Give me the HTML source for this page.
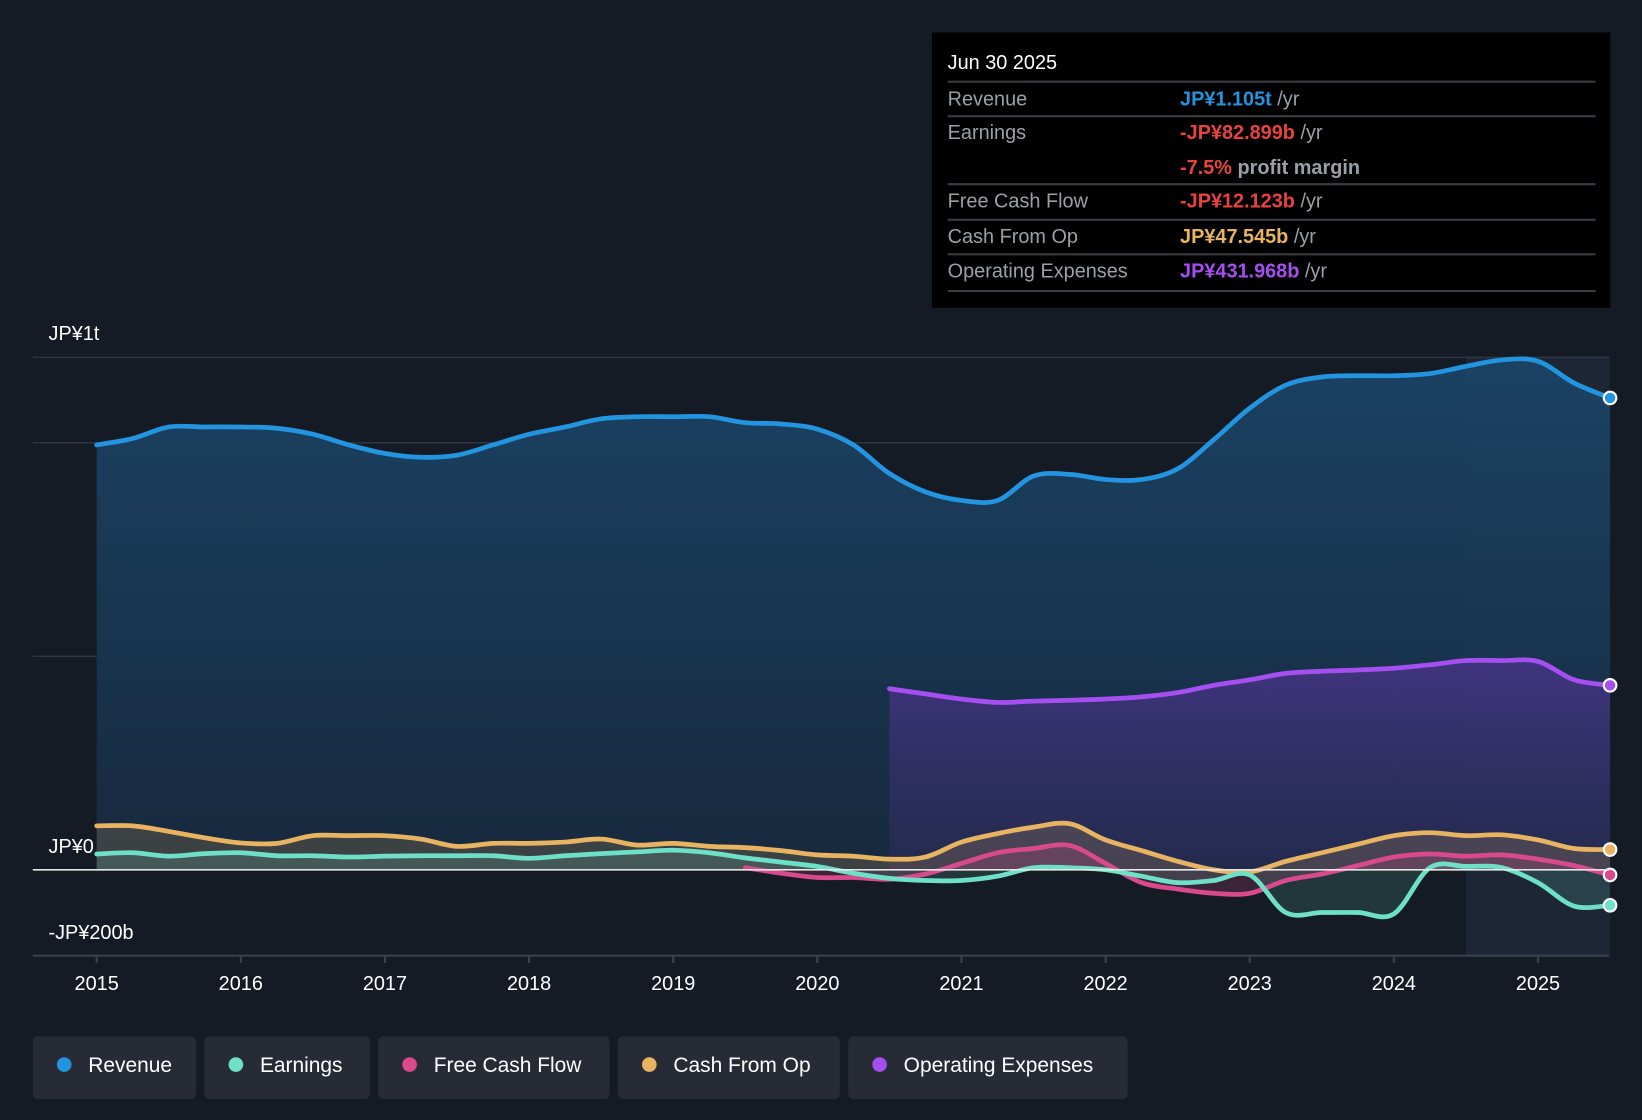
<!DOCTYPE html>
<html><head><meta charset="utf-8"><style>
html,body{margin:0;padding:0;background:#151b24;}
svg{display:block;font-family:"Liberation Sans",Arial,sans-serif;}
</style></head><body>
<svg id="chart" width="1642" height="1120" viewBox="0 0 1568 1070" xmlns="http://www.w3.org/2000/svg">
<defs>
<linearGradient id="gRev" x1="0" y1="0" x2="0" y2="1"><stop offset="0" stop-color="#1b4466" stop-opacity="0.95"/><stop offset="1" stop-color="#172a40" stop-opacity="0.9"/></linearGradient>
<linearGradient id="gOp" x1="0" y1="0" x2="0" y2="1"><stop offset="0" stop-color="#5a35a0" stop-opacity="0.6"/><stop offset="1" stop-color="#3a2d6a" stop-opacity="0.35"/></linearGradient>
</defs>
<rect width="1568" height="1070" fill="#151b24"/>
<g id="grid"></g>
<g id="areas"></g>
<g id="lines"></g>
<g id="xaxis"></g>
<text x="46" y="325" fill="#fff" font-size="19">JP¥1t</text>
<text x="46" y="815" fill="#fff" font-size="19">JP¥0</text>
<text x="46" y="897" fill="#fff" font-size="19">-JP¥200b</text>

<g>
<rect x="890" y="31" width="648" height="263" fill="#000"/>
<text x="905" y="66" fill="#fff" font-size="19">Jun 30 2025</text>
<g stroke="#3a3d42" stroke-width="2"><line x1="905" y1="78" x2="1524" y2="78"/><line x1="905" y1="111" x2="1524" y2="111"/><line x1="905" y1="176" x2="1524" y2="176"/><line x1="905" y1="210" x2="1524" y2="210"/><line x1="905" y1="243" x2="1524" y2="243"/><line x1="905" y1="278" x2="1524" y2="278"/></g>
<g font-size="19" fill="#9aa0a6">
<text x="905" y="101">Revenue</text><text x="905" y="133">Earnings</text><text x="905" y="198">Free Cash Flow</text><text x="905" y="232">Cash From Op</text><text x="905" y="265">Operating Expenses</text>
</g>
<g font-size="19" font-weight="bold">
<text x="1127" y="101"><tspan fill="#2394df">JP¥1.105t</tspan><tspan fill="#9aa0a6" font-weight="normal"> /yr</tspan></text>
<text x="1127" y="133"><tspan fill="#e8433f">-JP¥82.899b</tspan><tspan fill="#9aa0a6" font-weight="normal"> /yr</tspan></text>
<text x="1127" y="166"><tspan fill="#e8433f">-7.5%</tspan><tspan fill="#9aa0a6"> profit margin</tspan></text>
<text x="1127" y="198"><tspan fill="#e8433f">-JP¥12.123b</tspan><tspan fill="#9aa0a6" font-weight="normal"> /yr</tspan></text>
<text x="1127" y="232"><tspan fill="#e9b461">JP¥47.545b</tspan><tspan fill="#9aa0a6" font-weight="normal"> /yr</tspan></text>
<text x="1127" y="265"><tspan fill="#a54ff0">JP¥431.968b</tspan><tspan fill="#9aa0a6" font-weight="normal"> /yr</tspan></text>
</g>
</g>

<g font-size="20" fill="#fff">
<g><rect x="31" y="990" width="156" height="60" rx="5" fill="#262b35"/><circle cx="61" cy="1017" r="7" fill="#2394df"/><text x="84" y="1024">Revenue</text></g>
<g><rect x="195" y="990" width="158" height="60" rx="5" fill="#262b35"/><circle cx="225" cy="1017" r="7" fill="#6fe0c8"/><text x="248" y="1024">Earnings</text></g>
<g><rect x="361" y="990" width="221" height="60" rx="5" fill="#262b35"/><circle cx="391" cy="1017" r="7" fill="#d84a8c"/><text x="414" y="1024">Free Cash Flow</text></g>
<g><rect x="590" y="990" width="212" height="60" rx="5" fill="#262b35"/><circle cx="620" cy="1017" r="7" fill="#e9b461"/><text x="643" y="1024">Cash From Op</text></g>
<g><rect x="810" y="990" width="267" height="60" rx="5" fill="#262b35"/><circle cx="840" cy="1017" r="7" fill="#a54ff0"/><text x="863" y="1024">Operating Expenses</text></g>
</g>
</svg>
<script>
const years = [2015,2016,2017,2018,2019,2020,2021,2022,2023,2024,2025];
const revenue = [995,1010,1037,1037,1037,1034,1020,995,975,966,971,995,1020,1037,1056,1061,1061,1061,1047,1044,1032,995,928,885,865,865,922,926,914,914,939,1007,1081,1135,1154,1157,1157,1162,1179,1194,1191,1140,1105];
const earnings = [37,40,32,38,40,33,33,30,32,33,33,33,27,33,38,42,46,40,28,18,8,-8,-20,-25,-25,-15,5,5,0,-15,-30,-25,-12,-100,-100,-100,-103,5,8,5,-30,-85,-83];
const fcf = [5,-8,-18,-18,-22,-10,15,40,50,57,15,-30,-45,-55,-55,-25,-10,10,30,37,32,35,25,10,-12];
const cfo = [103,103,90,75,63,62,80,80,80,72,55,62,62,65,72,58,62,55,52,45,35,32,25,30,65,85,100,108,70,45,20,0,-5,20,40,60,80,87,80,82,70,50,47.5];
const opex = [424,412,400,392,395,397,400,405,415,432,445,460,465,468,472,480,490,490,488,445,432];
const NS='http://www.w3.org/2000/svg';
const X=t=>92+(t-2015)*137.7;
const Y=v=>831-v*0.408;
function el(tag,attrs,parent){const e=document.createElementNS(NS,tag);for(const k in attrs)e.setAttribute(k,attrs[k]);parent.appendChild(e);return e;}
function pts(arr,start){return arr.map((v,i)=>[X(start+i*0.25),Y(v)]);}
function path(p){let d='M'+p[0][0]+','+p[0][1];for(let i=0;i<p.length-1;i++){const p0=p[i-1]||p[i],p1=p[i],p2=p[i+1],p3=p[i+2]||p2;d+=' C'+(p1[0]+(p2[0]-p0[0])/6)+','+(p1[1]+(p2[1]-p0[1])/6)+' '+(p2[0]-(p3[0]-p1[0])/6)+','+(p2[1]-(p3[1]-p1[1])/6)+' '+p2[0]+','+p2[1];}return d;}
const grid=document.getElementById('grid'),areas=document.getElementById('areas'),lines=document.getElementById('lines'),xa=document.getElementById('xaxis');
el('rect',{x:X(2024.5),y:341,width:X(2025.5)-X(2024.5),height:572,fill:'#1c2634'},grid);
[1200,1000,500].forEach(v=>{const g=el('line',{x1:31,x2:1537,y1:Y(v),y2:Y(v),stroke:'#2e3641','stroke-width':1.5},grid);

});
function series(arr,start,color,fill,name){const p=pts(arr,start);const d=path(p);
const a=el('path',{d:d+' L'+p[p.length-1][0]+','+Y(0)+' L'+p[0][0]+','+Y(0)+'Z',fill:fill},areas);


const l=el('path',{d:d,fill:'none',stroke:color,'stroke-width':4.5,'stroke-linejoin':'round','stroke-linecap':'round'},lines);


const c=el('circle',{cx:p[p.length-1][0],cy:p[p.length-1][1],r:6,fill:color,stroke:'#fff','stroke-width':2},lines);

}
series(revenue,2015,'#2394df','url(#gRev)','revenue');
series(opex,2020.5,'#a54ff0','url(#gOp)','operating-expenses');
series(cfo,2015,'#e9b461','rgba(233,180,97,0.18)','cash-from-op');
series(fcf,2019.5,'#d84a8c','rgba(216,74,140,0.2)','free-cash-flow');
series(earnings,2015,'#6fe0c8','rgba(111,224,200,0.15)','earnings');
const z=el('line',{x1:31,x2:1537,y1:Y(0),y2:Y(0),stroke:'#e6e6e6','stroke-width':1.5},grid.parentNode);


const ax=el('line',{x1:31,x2:1537,y1:913,y2:913,stroke:'#3a414c','stroke-width':2},xa);


years.forEach(yr=>{const x=X(yr);el('line',{x1:x,x2:x,y1:913,y2:920,stroke:'#3a414c','stroke-width':2},xa);
const t=el('text',{x:x,y:946,fill:'#fff','font-size':19,'text-anchor':'middle'},xa);


t.textContent=yr;});
</script>
</body></html>
